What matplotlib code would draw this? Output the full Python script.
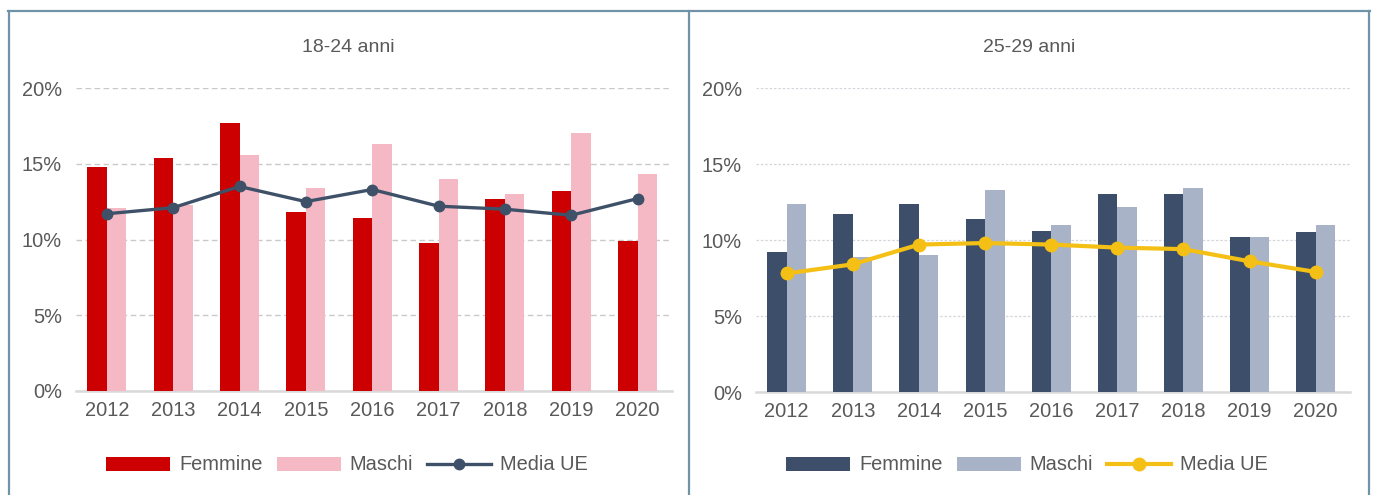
import matplotlib
matplotlib.use('Agg')
import matplotlib.pyplot as plt
from matplotlib.lines import Line2D
from matplotlib.ticker import FuncFormatter

# ---------------- data ----------------
years = ['2012', '2013', '2014', '2015', '2016', '2017', '2018', '2019', '2020']

femmine_1824 = [14.8, 15.4, 17.7, 11.8, 11.4, 9.8, 12.7, 13.2, 9.9]
maschi_1824 = [12.1, 12.3, 15.6, 13.4, 16.3, 14.0, 13.0, 17.0, 14.3]
media_1824 = [11.7, 12.1, 13.5, 12.5, 13.3, 12.2, 12.0, 11.6, 12.7]

femmine_2529 = [9.2, 11.7, 12.4, 11.4, 10.6, 13.0, 13.0, 10.2, 10.5]
maschi_2529 = [12.4, 8.9, 9.0, 13.3, 11.0, 12.2, 13.4, 10.2, 11.0]
media_2529 = [7.8, 8.4, 9.7, 9.8, 9.7, 9.5, 9.4, 8.6, 7.9]

titles = ['18-24 anni', '25-29 anni']
legend_labels = ['Femmine', 'Maschi', 'Media UE']
yticks = [0, 5, 10, 15, 20]

plt.rcParams['font.family'] = ['Liberation Sans', 'DejaVu Sans']

W, H = 1375, 495
fig = plt.figure(figsize=(W / 100, H / 100), dpi=100)
fig.patch.set_facecolor('white')

TXT = '#595959'
FS = 14.4


def rect(x0, x1, ytop, ybot):
    return [x0 / W, 1 - ybot / H, (x1 - x0) / W, (ybot - ytop) / H]


def draw_panel(pos, fem, mas, med, colors, line_kw, grid_ls, title, title_x, leg_x):
    ax = fig.add_axes(pos)
    x = list(range(len(years)))
    w = 0.295
    bf = ax.bar([i - w / 2 for i in x], fem, width=w, color=colors[0], zorder=2)
    bm = ax.bar([i + w / 2 for i in x], mas, width=w, color=colors[1], zorder=2)
    ln, = ax.plot(x, med, color=colors[2], marker='o', zorder=3, **line_kw)
    ax.set_ylim(0, 20)
    ax.set_xlim(-0.465, 8.52)
    ax.set_yticks(yticks)
    ax.yaxis.set_major_formatter(FuncFormatter(lambda v, p: f'{int(v)}%'))
    ax.set_xticks(x)
    ax.set_xticklabels(years)
    for s in ax.spines.values():
        s.set_visible(False)
    ax.yaxis.grid(True, **grid_ls)
    ax.set_axisbelow(True)
    ax.axhline(0, color='#D9D9D9', lw=1.8, zorder=1.5, clip_on=False)
    ax.tick_params(axis='both', length=0, labelsize=FS, labelcolor=TXT)
    ax.tick_params(axis='x', pad=7.5)
    ax.tick_params(axis='y', pad=10)
    fig.text(title_x / W, 1 - 47 / H, title, ha='center', va='center',
             fontsize=FS - 0.4, color=TXT)
    fig.legend([bf, bm, ln], legend_labels, loc='center',
               bbox_to_anchor=(leg_x / W, 1 - 465 / H), ncol=3,
               frameon=False, fontsize=FS, handlelength=3.2,
               handletextpad=0.45, columnspacing=0.7, labelcolor=TXT)
    return ax


draw_panel(rect(76, 672, 88, 391), femmine_1824, maschi_1824, media_1824,
           ['#CC0000', '#F4B9C4', '#3E5169'],
           dict(lw=2.4, markersize=7.5),
           dict(linestyle=(0, (4, 2.5)), color='#C9C9C9', lw=1.0),
           titles[0], 348, 347)

draw_panel(rect(756, 1350, 88, 392), femmine_2529, maschi_2529, media_2529,
           ['#3C4E69', '#A8B3C7', '#F4C015'],
           dict(lw=3.0, markersize=9),
           dict(linestyle=(0, (2, 1.5)), color='#D3D6DC', lw=0.9),
           titles[1], 1029, 1027)

# panel frames
bc = '#7193A8'
for (xs, ys) in [((8.5, 8.5), (11, 495)), ((689, 689), (11, 495)),
                 ((1369, 1369), (11, 495)), ((8, 1370), (11, 11))]:
    fig.add_artist(Line2D([xx / W for xx in xs], [1 - yy / H for yy in ys],
                          color=bc, lw=1.6, transform=fig.transFigure))

fig.savefig('out.png', dpi=100, facecolor='white')
